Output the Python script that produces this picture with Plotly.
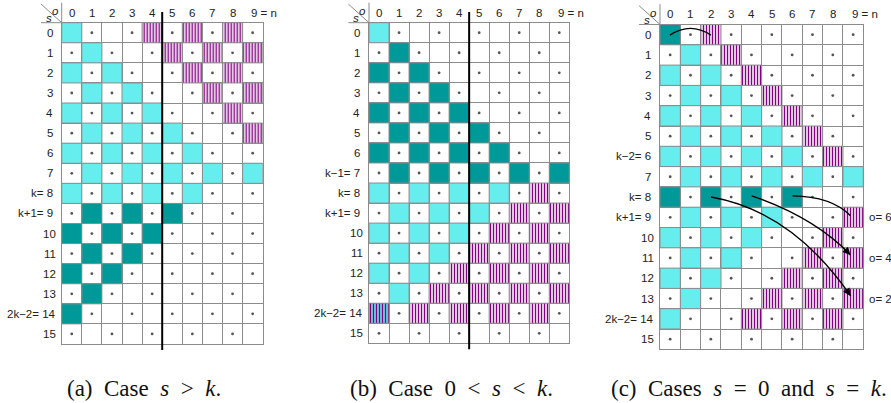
import plotly.graph_objects as go

W, H = 891, 403

# ---------------- data ----------------
# Cell codes per row s (0..15), column o (0..9):
# C = light cyan, T = dark teal, P = purple hatched, X = purple hatched on cyan,
# '.' = dot cell, '-' = empty cell
COLS = ["0", "1", "2", "3", "4", "5", "6", "7", "8", "9"]
ROWS = [str(i) for i in range(16)]

GRID_A = [
    "C.-.P.P.P.", ".C.-.P.P.P", "C.C.-.P.P.", ".C.C.-.P.P",
    "C.C.C.-.P.", ".C.C.C.-.P", "C.C.C.C.-.", ".C.C.C.C.C",
    "C.C.C.C.-.", ".T.T.T.-.-", "T.T.T.-.-.", ".T.T.-.-.-",
    "T.T.-.-.-.", ".T.-.-.-.-", "T.-.-.-.-.", ".-.-.-.-.-",
]
GRID_B = [
    "C.-.-.-.-.", ".T.-.-.-.-", "T.T.-.-.-.", ".T.T.-.-.-",
    "T.T.T.-.-.", ".T.T.T.-.-", "T.T.T.T.-.", ".T.T.T.T.T",
    "C.C.C.C.P.", ".C.C.C.P.P", "C.C.C.P.P.", ".C.C.P.P.P",
    "C.C.P.P.P.", ".C.P.P.P.P", "X.P.P.P.P.", ".-.-.-.-.-",
]
GRID_C = [
    "T.P.-.-.-.", ".C.P.-.-.-", "C.C.P.-.-.", ".C.C.P.-.-",
    "C.C.C.P.-.", ".C.C.C.P.-", "C.C.C.C.P.", ".C.C.C.C.C",
    "T.T.T.T.-.", ".C.C.C.-.P", "C.C.C.-.P.", ".C.C.-.P.P",
    "C.C.-.P.P.", ".C.-.P.P.P", "C.-.P.P.P.", ".-.-.-.-.-",
]

PREFIX_A = {8: "k= ", 9: "k+1= ", 14: "2k\u22122= "}
PREFIX_B = {7: "k\u22121= ", 8: "k= ", 9: "k+1= ", 14: "2k\u22122= "}
PREFIX_C = {6: "k\u22122= ", 8: "k= ", 9: "k+1= ", 14: "2k\u22122= "}

NB = "\u00a0"
CAPTION_A = f"(a){NB} Case{NB} <i>s</i>{NB} >{NB} <i>k</i>."
CAPTION_B = f"(b){NB} Case{NB} 0{NB} <{NB} <i>s</i>{NB} <{NB} <i>k</i>."
CAPTION_C = f"(c){NB} Cases{NB} <i>s</i>{NB} ={NB} 0{NB} and{NB} <i>s</i>{NB} ={NB} <i>k</i>."

# arrows in panel c: (start o, start s, control o, control s, end o, end s)
ARROWS_C = [
    (0.49, 0.52, 1.5, -0.14, 2.5, 0.52),
    (6.52, 8.44, 8.45, 8.47, 9.37, 9.42),
    (4.51, 8.44, 7.6, 9.5, 9.37, 11.35),
    (2.51, 8.5, 6.5, 9.2, 9.38, 13.37),
]
O_LABELS_C = [(9, "o= 6"), (11, "o= 4"), (13, "o= 2")]

# ---------------- style ----------------
CYAN = "#66EEEE"
TEAL = "#009999"
PURPLE = "#800080"
GRIDC = "#8c8c8c"
LABEL_FONT = dict(family="Liberation Sans, Arial, sans-serif", size=11.5, color="#222")
CAP_FONT = dict(family="Liberation Serif, Times New Roman, serif", size=23, color="#111")

PANELS = [
    dict(grid=GRID_A, prefix=PREFIX_A, gx=61.7, gy=22.7, cw=20.1, ch=20.08,
         divider=True, caption=CAPTION_A, cap_x=143.7, arrows=[], olabels=[]),
    dict(grid=GRID_B, prefix=PREFIX_B, gx=369.0, gy=22.7, cw=20.03, ch=20.04,
         divider=True, caption=CAPTION_B, cap_x=451.7, arrows=[], olabels=[]),
    dict(grid=GRID_C, prefix=PREFIX_C, gx=660.0, gy=24.5, cw=20.33, ch=20.3,
         divider=False, caption=CAPTION_C, cap_x=749.0, arrows=ARROWS_C, olabels=O_LABELS_C),
]

fig = go.Figure()
shapes = []
annotations = []
layout_axes = {}

for i, p in enumerate(PANELS):
    n = i + 1
    xa = "x" if n == 1 else f"x{n}"
    ya = "y" if n == 1 else f"y{n}"
    xkey = "xaxis" if n == 1 else f"xaxis{n}"
    ykey = "yaxis" if n == 1 else f"yaxis{n}"
    dx = f"{xa} domain"
    dy = f"{ya} domain"
    ncol, nrow = len(COLS), len(ROWS)

    def fx(o):
        return o / ncol

    def fy(s):
        return 1 - s / nrow

    x0 = p["gx"] / W
    x1 = (p["gx"] + ncol * p["cw"]) / W
    y1 = 1 - p["gy"] / H
    y0 = 1 - (p["gy"] + nrow * p["ch"]) / H
    common = dict(showgrid=True, gridcolor=GRIDC, gridwidth=1, dtick=1, tick0=0,
                  showticklabels=False, ticks="", zeroline=False, showline=True,
                  mirror=True, linecolor=GRIDC, linewidth=1, fixedrange=True)
    layout_axes[xkey] = dict(domain=[x0, x1], range=[0, ncol], anchor=ya, **common)
    layout_axes[ykey] = dict(domain=[y0, y1], range=[nrow, 0], anchor=xa, **common)

    cells = {"C": ([], []), "T": ([], []), "P": ([], []), "X": ([], [])}
    dots_o, dots_s = [], []
    for s, row in enumerate(p["grid"]):
        for o, ch in enumerate(row):
            if ch in cells:
                cells[ch][0].append(o + 0.5)
                cells[ch][1].append(s)
            elif ch == ".":
                dots_o.append(o + 0.5)
                dots_s.append(s + 0.5)

    styles = {
        "C": dict(color=CYAN),
        "T": dict(color=TEAL),
        "P": dict(color="white", pattern=dict(shape="|", fgcolor=PURPLE, bgcolor="white",
                                              size=3, solidity=0.48, fillmode="replace")),
        "X": dict(color=CYAN, pattern=dict(shape="|", fgcolor=PURPLE, bgcolor=CYAN,
                                           size=3, solidity=0.48, fillmode="replace")),
    }
    for code, (xs, bs) in cells.items():
        if not xs:
            continue
        fig.add_trace(go.Bar(
            x=xs, y=[1] * len(xs), base=bs, width=[1] * len(xs),
            marker=dict(line=dict(color=GRIDC, width=1), **styles[code]),
            xaxis=xa, yaxis=ya, showlegend=False, hoverinfo="skip"))
    fig.add_trace(go.Scatter(
        x=dots_o, y=dots_s, mode="markers",
        marker=dict(size=2.8, color="#555"),
        xaxis=xa, yaxis=ya, showlegend=False, hoverinfo="skip"))

    # header labels
    for o, lab in enumerate(COLS):
        if o == ncol - 1:
            annotations.append(dict(x=fx(o + 0.5 - 0.16), y=fy(-0.5), xref=dx, yref=dy,
                                    text=lab + " = n", showarrow=False, xanchor="left",
                                    yanchor="middle", font=LABEL_FONT))
        else:
            annotations.append(dict(x=fx(o + 0.5), y=fy(-0.5), xref=dx, yref=dy, text=lab,
                                    showarrow=False, xanchor="center", yanchor="middle",
                                    font=LABEL_FONT))
    # row labels
    for s, lab in enumerate(ROWS):
        pre = p["prefix"].get(s, "")
        annotations.append(dict(x=fx(-0.5 + 0.16 * len(lab)), y=fy(s + 0.5), xref=dx, yref=dy,
                                text=pre + lab, showarrow=False, xanchor="right",
                                yanchor="middle", font=LABEL_FONT))
    # corner
    shapes.append(dict(type="line", xref=dx, yref=dy, x0=fx(-1.03), y0=fy(-0.93),
                       x1=fx(0), y1=fy(0), line=dict(color=GRIDC, width=1)))
    shapes.append(dict(type="line", xref=dx, yref=dy, x0=fx(-1.03), y0=fy(0),
                       x1=fx(0), y1=fy(0), line=dict(color=GRIDC, width=1)))
    shapes.append(dict(type="line", xref=dx, yref=dy, x0=fx(0), y0=fy(-1.0),
                       x1=fx(0), y1=fy(0), line=dict(color=GRIDC, width=1)))
    annotations.append(dict(x=fx(-0.33), y=fy(-0.58), xref=dx, yref=dy, text="<i>o</i>",
                            showarrow=False, font=LABEL_FONT, xanchor="center", yanchor="middle"))
    annotations.append(dict(x=fx(-0.64), y=fy(-0.22), xref=dx, yref=dy, text="<i>s</i>",
                            showarrow=False, font=LABEL_FONT, xanchor="center", yanchor="middle"))
    # divider
    if p["divider"]:
        shapes.append(dict(type="line", xref=dx, yref=dy, x0=fx(5), x1=fx(5),
                           y0=fy(-0.53), y1=fy(16.3),
                           line=dict(color="black", width=2)))
    # arrows
    for (so, ss, co, cs, eo, es) in p["arrows"]:
        shapes.append(dict(type="path", xref=xa, yref=ya,
                           path=f"M {so},{ss} Q {co},{cs} {eo},{es}",
                           line=dict(color="black", width=1.4)))
        to = eo - 0.08 * (eo - co)
        ts = es - 0.08 * (es - cs)
        annotations.append(dict(x=eo, y=es, ax=to, ay=ts, xref=xa, yref=ya,
                                axref=xa, ayref=ya, text="", showarrow=True,
                                arrowhead=2, arrowsize=1.1, arrowwidth=1.4,
                                arrowcolor="black", standoff=0, startstandoff=0))
    for s, txt in p["olabels"]:
        annotations.append(dict(x=fx(10.18), y=fy(s + 0.5), xref=dx, yref=dy, text=txt,
                                showarrow=False, xanchor="left", yanchor="middle",
                                font=LABEL_FONT))
    # caption
    annotations.append(dict(x=p["cap_x"] / W, y=1 - 388 / H, xref="paper", yref="paper",
                            text=p["caption"], showarrow=False, xanchor="center",
                            yanchor="middle", font=CAP_FONT))

fig.update_layout(
    width=W, height=H, margin=dict(l=0, r=0, t=0, b=0),
    paper_bgcolor="white", plot_bgcolor="white",
    barmode="overlay", showlegend=False,
    shapes=shapes, annotations=annotations,
    **layout_axes,
)

fig.write_html("out.html", config={"displayModeBar": False},
               post_script="document.body.style.margin='0px';")
